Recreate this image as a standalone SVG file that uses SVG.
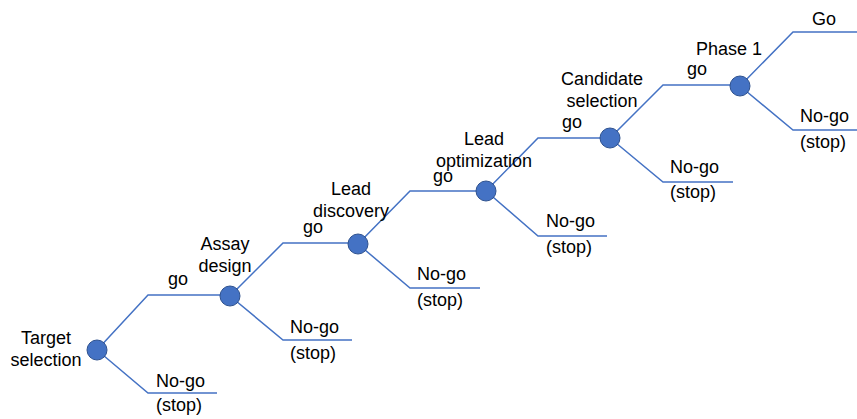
<svg xmlns="http://www.w3.org/2000/svg" width="857" height="419" viewBox="0 0 857 419">
  <style>
    text { font-family: "Liberation Sans", Arial, Helvetica, sans-serif; font-size: 18px; fill: #000; }
    .mid { text-anchor: middle; }
    .branch { fill: none; stroke: #4472C4; stroke-width: 1.5; }
    .node circle { fill: #4472C4; stroke: #2F528F; stroke-width: 1; }
  </style>
  <rect width="857" height="419" fill="#fff"/>

  <!-- go / no-go branches -->
  <g id="connectors">
    <polyline class="branch" points="97,350 148,295 230,295"/>
    <polyline class="branch" points="97,350 148,393 217,393"/>
    <polyline class="branch" points="230,296 283,243 358,243"/>
    <polyline class="branch" points="230,296 283,340 352,340"/>
    <polyline class="branch" points="358,244 410,191 486,191"/>
    <polyline class="branch" points="358,244 410,288 480,288"/>
    <polyline class="branch" points="486,191 538,138 610,138"/>
    <polyline class="branch" points="486,191 538,236 607,236"/>
    <polyline class="branch" points="610,138 663,85 740,85"/>
    <polyline class="branch" points="610,138 663,182 733,182"/>
    <polyline class="branch" points="740,86 793,32 857,32"/>
    <polyline class="branch" points="740,86 793,130 857,130"/>
  </g>

  <!-- branch labels -->
  <g id="labels">
    <text x="168" y="285">go</text>
    <text x="156" y="387">No-go</text>
    <text x="156" y="411">(stop)</text>
    <text x="303" y="233">go</text>
    <text x="290" y="333">No-go</text>
    <text x="290" y="359">(stop)</text>
    <text x="433" y="182">go</text>
    <text x="417" y="280">No-go</text>
    <text x="417" y="306">(stop)</text>
    <text x="562" y="128">go</text>
    <text x="546" y="227">No-go</text>
    <text x="546" y="253">(stop)</text>
    <text x="687" y="75">go</text>
    <text x="670" y="173">No-go</text>
    <text x="670" y="198">(stop)</text>
    <text x="812" y="25">Go</text>
    <text x="800" y="122">No-go</text>
    <text x="800" y="148">(stop)</text>
  </g>

  <g id="target-selection" class="node">
    <circle cx="97" cy="350" r="10"/>
    <text class="mid" x="46" y="344">Target</text>
    <text class="mid" x="46" y="366">selection</text>
  </g>
  <g id="assay-design" class="node">
    <circle cx="230" cy="296" r="10"/>
    <text class="mid" x="225" y="250">Assay</text>
    <text class="mid" x="225" y="272">design</text>
  </g>
  <g id="lead-discovery" class="node">
    <circle cx="358" cy="244" r="10"/>
    <text class="mid" x="351" y="195">Lead</text>
    <text class="mid" x="351" y="217">discovery</text>
  </g>
  <g id="lead-optimization" class="node">
    <circle cx="486" cy="191" r="10"/>
    <text class="mid" x="484" y="145">Lead</text>
    <text class="mid" x="484" y="167">optimization</text>
  </g>
  <g id="candidate-selection" class="node">
    <circle cx="610" cy="138" r="10"/>
    <text class="mid" x="602" y="85">Candidate</text>
    <text class="mid" x="602" y="107">selection</text>
  </g>
  <g id="phase-1" class="node">
    <circle cx="740" cy="86" r="10"/>
    <text class="mid" x="729" y="55">Phase 1</text>
  </g>
</svg>
